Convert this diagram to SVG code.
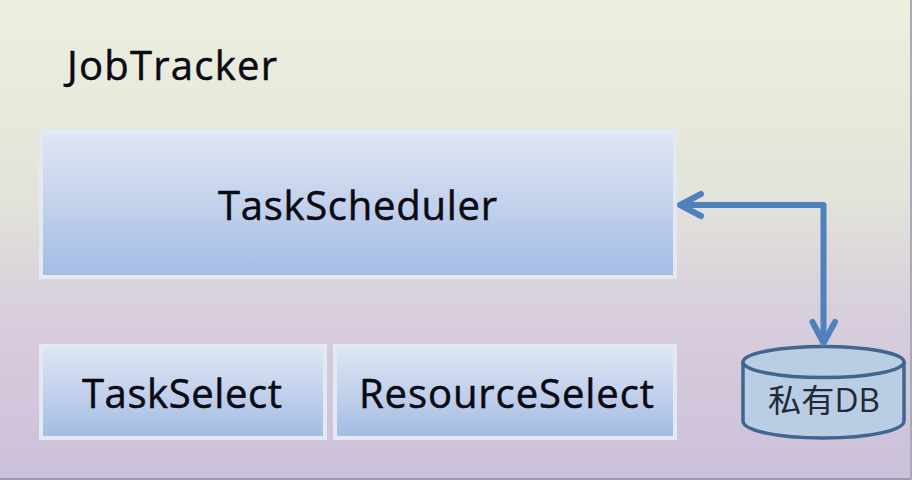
<svg xmlns="http://www.w3.org/2000/svg" width="912" height="480" viewBox="0 0 912 480">
<style>
.lbl{font-family:"Open Sans","Noto Sans","Noto Sans CJK SC",sans-serif;fill:#0a0a14;text-anchor:middle;stroke:#0a0a14;stroke-width:0.5;font-size:40px}
.box{fill:url(#bf);stroke:#e2e9f3;stroke-width:4}
.conn{fill:none;stroke:#4f81bd;stroke-width:6;stroke-linecap:round;stroke-linejoin:round}
.db{fill:#b9cde5;stroke:#41658f;stroke-width:3.500}
</style>
<defs>
<linearGradient id="bg" x1="0" y1="0" x2="0" y2="1"><stop offset="0" stop-color="#ecf0df"/><stop offset="0.4" stop-color="#e3e4da"/><stop offset="0.65" stop-color="#d8cedc"/><stop offset="1" stop-color="#ccc0da"/></linearGradient>
<linearGradient id="bf" x1="0" y1="0" x2="0" y2="1"><stop offset="0" stop-color="#dfe6f4"/><stop offset="0.5" stop-color="#c3d1ec"/><stop offset="1" stop-color="#a2bce4"/></linearGradient>
</defs>
<rect id="background" width="912" height="480" fill="url(#bg)"/>
<rect x="0" y="478" width="912" height="2" fill="#9a9ab5"/>
<rect x="910" y="0" width="2" height="480" fill="#a9aab8"/>
<g id="jobtracker"><text class="lbl" x="172" y="80" textLength="210" lengthAdjust="spacing">JobTracker</text></g>
<g id="taskscheduler"><rect class="box" x="41" y="132" width="634" height="145"/><text class="lbl" x="357.500" y="220" textLength="279" lengthAdjust="spacing">TaskScheduler</text></g>
<g id="taskselect"><rect class="box" x="41" y="346" width="284" height="92"/><text class="lbl" x="182" y="408" textLength="200" lengthAdjust="spacing">TaskSelect</text></g>
<g id="resourceselect"><rect class="box" x="335" y="346" width="340" height="92"/><text class="lbl" x="506.500" y="408" textLength="295" lengthAdjust="spacing">ResourceSelect</text></g>
<g id="db">
<path class="db" d="M743 362V421C743 430 775 438 823 438S904 430 904 421V362"/>
<ellipse class="db" cx="823.500" cy="362" rx="80.500" ry="15.500"/>
<text class="lbl" x="824" y="412" style="font-size:32px;fill:#222a3a;stroke:none" textLength="112" lengthAdjust="spacingAndGlyphs">私有DB</text>
</g>
<g id="connectors">
<path class="conn" d="M684 205H823.500V340"/>
<path class="conn" d="M701 194L680 205L701 216"/>
<path class="conn" d="M812.500 322L823.500 343L835 322"/>
</g>
</svg>
